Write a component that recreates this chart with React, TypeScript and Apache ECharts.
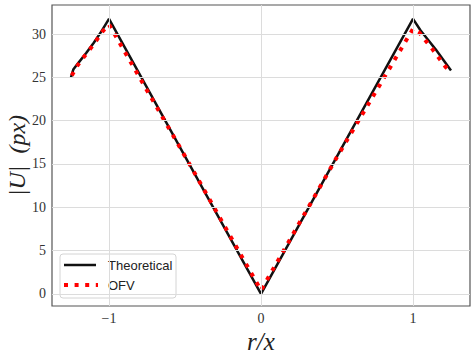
import React, { useEffect, useRef } from 'react';
import * as echarts from 'echarts';

const theoX = [-1.25, -1.235, -1.2, -1.15, -1.1, -1.05, -1.0, 0, 1.0, 1.05, 1.1, 1.15, 1.2, 1.25];
const theoY = [25.0, 25.9, 26.7, 27.8, 29.0, 30.3, 31.75, 0, 31.75, 30.4, 29.3, 28.2, 27.0, 25.8];

const ofvX = [-1.245, -1.21, -1.17, -1.125, -1.085, -1.045, -1.0, -0.5, 0, 0.5, 1.0, 1.04, 1.085, 1.13, 1.17, 1.215, 1.24];
const ofvY = [25.2, 26.3, 27.25, 28.25, 29.2, 30.25, 31.1, 15.9, 0.4, 15.8, 30.6, 30.2, 29.2, 28.2, 27.25, 26.2, 25.8];

const xTicks = [-1, 0, 1];
const yTicks = [0, 5, 10, 15, 20, 25, 30];

const seriesNames = ['Theoretical', 'OFV'];

export default function App() {
  const ref = useRef<HTMLDivElement>(null);
  useEffect(() => {
    document.body.style.margin = '0';
    const chart = echarts.init(ref.current!, null, { renderer: 'svg' });
    const fmt = (v: number) => String(v).replace('-', '\u2212');
    const gridLines = [
      ...xTicks.map((v) => ({ xAxis: v })),
      ...yTicks.map((v) => ({ yAxis: v })),
    ];
    chart.setOption({
      animation: false,
      backgroundColor: '#ffffff',
      grid: {
        left: 52,
        right: 6,
        top: 5,
        bottom: 53,
        containLabel: false,
        outerBoundsMode: 'none',
        show: true,
        borderColor: '#555',
        borderWidth: 1.2,
        backgroundColor: 'transparent',
      },
      xAxis: {
        type: 'value',
        min: -1.375,
        max: 1.375,
        axisLine: { show: false },
        axisTick: { show: false },
        splitLine: { show: false },
        axisLabel: {
          customValues: xTicks,
          formatter: fmt,
          fontFamily: 'Liberation Serif',
          fontSize: 14,
          color: '#333',
          margin: 5,
        },
        name: 'r/x',
        nameLocation: 'middle',
        nameMoveOverlap: false,
        nameGap: 23,
        nameTextStyle: {
          fontFamily: 'Liberation Serif',
          fontStyle: 'italic',
          fontSize: 25,
          lineHeight: 25,
          color: '#222',
        },
      },
      yAxis: {
        type: 'value',
        min: -1.4,
        max: 33.35,
        axisLine: { show: false },
        axisTick: { show: false },
        splitLine: { show: false },
        axisLabel: {
          customValues: yTicks,
          formatter: fmt,
          fontFamily: 'Liberation Serif',
          fontSize: 14,
          color: '#333',
          margin: 6,
        },
        name: '|U|  (px)',
        nameLocation: 'middle',
        nameMoveOverlap: false,
        nameGap: 22,
        nameTextStyle: {
          fontFamily: 'Liberation Serif',
          fontStyle: 'italic',
          fontSize: 24,
          lineHeight: 26,
          color: '#222',
        },
      },
      series: [
        {
          type: 'line',
          name: 'grid',
          data: [],
          silent: true,
          z: 0,
          markLine: {
            silent: true,
            symbol: ['none', 'none'],
            label: { show: false },
            lineStyle: { color: '#dcdcdc', width: 1, type: 'solid' },
            data: gridLines,
          },
        },
        {
          type: 'line',
          name: seriesNames[0],
          data: theoX.map((x, i) => [x, theoY[i]]),
          symbol: 'none',
          lineStyle: { color: '#111', width: 2.5 },
          z: 3,
        },
        {
          type: 'line',
          name: seriesNames[1],
          data: ofvX.map((x, i) => [x, ofvY[i]]),
          symbol: 'none',
          lineStyle: { color: '#ff0000', width: 4, type: [4, 6.6], cap: 'butt' },
          z: 4,
        },
      ],
      graphic: [
        {
          type: 'group',
          z: 100,
          children: [
            {
              type: 'rect',
              shape: { x: 60, y: 254, width: 116, height: 44, r: 3 },
              style: { fill: 'rgba(255,255,255,0.85)', stroke: '#d4d4d4', lineWidth: 1 },
            },
            {
              type: 'line',
              shape: { x1: 64, y1: 265, x2: 96, y2: 265 },
              style: { stroke: '#111', lineWidth: 2.5 },
            },
            {
              type: 'line',
              shape: { x1: 64, y1: 285, x2: 98, y2: 285 },
              style: { stroke: '#ff0000', lineWidth: 4, lineDash: [4, 6.6], lineCap: 'butt' },
            },
            {
              type: 'text',
              style: {
                text: seriesNames[0],
                x: 108,
                y: 265,
                verticalAlign: 'middle',
                font: '13px "Liberation Sans"',
                fill: '#222',
              },
            },
            {
              type: 'text',
              style: {
                text: seriesNames[1],
                x: 108,
                y: 285,
                verticalAlign: 'middle',
                font: '13px "Liberation Sans"',
                fill: '#222',
              },
            },
          ],
        },
      ],
    });
    return () => chart.dispose();
  }, []);
  return <div ref={ref} style={{ width: 476, height: 359 }} />;
}
